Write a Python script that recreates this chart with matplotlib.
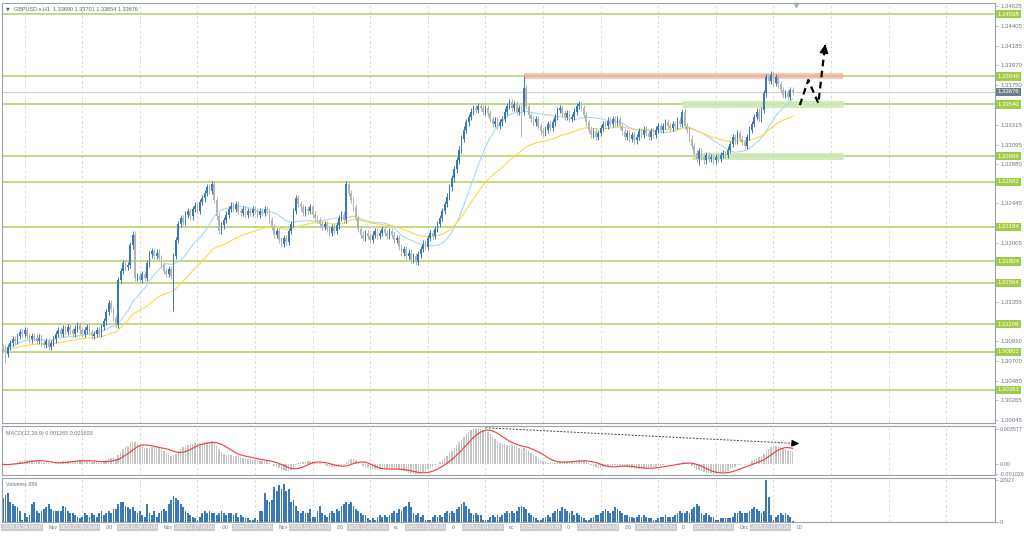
import numpy as np
import pandas as pd
import matplotlib
matplotlib.use('Agg')
import matplotlib.pyplot as plt
import matplotlib.transforms as mtransforms

plt.rcParams['font.family'] = ['Liberation Sans', 'DejaVu Sans']

# hourly closes GBPUSD H1, one row per trading day
closes = [
    # 2025.11.24
    1.3084, 1.3078, 1.3086, 1.3090, 1.3094, 1.3092, 1.3098, 1.3102, 1.3100, 1.3104, 1.3098, 1.3094,
    1.3098, 1.3096, 1.3092, 1.3096, 1.3090, 1.3088, 1.3092, 1.3086, 1.3090, 1.3094, 1.3100, 1.3104,
    # 2025.11.25
    1.3100, 1.3106, 1.3102, 1.3108, 1.3104, 1.3100, 1.3106, 1.3110, 1.3104, 1.3100, 1.3104, 1.3108,
    1.3102, 1.3098, 1.3100, 1.3104, 1.3100, 1.3108, 1.3114, 1.3124, 1.3134, 1.3128, 1.3118, 1.3110,
    # 2025.11.26
    1.3160, 1.3170, 1.3178, 1.3174, 1.3176, 1.3198, 1.3210, 1.3162, 1.3164, 1.3160, 1.3166, 1.3162,
    1.3178, 1.3188, 1.3192, 1.3186, 1.3190, 1.3184, 1.3176, 1.3170, 1.3166, 1.3172, 1.3164, 1.3186,
    # 2025.11.27
    1.3204, 1.3222, 1.3228, 1.3224, 1.3232, 1.3236, 1.3230, 1.3238, 1.3242, 1.3236, 1.3246, 1.3250,
    1.3256, 1.3262, 1.3258, 1.3266, 1.3248, 1.3230, 1.3214, 1.3220, 1.3226, 1.3232, 1.3238, 1.3242,
    # 2025.11.28
    1.3238, 1.3244, 1.3236, 1.3234, 1.3238, 1.3232, 1.3236, 1.3234, 1.3238, 1.3236, 1.3232, 1.3236,
    1.3234, 1.3238, 1.3236, 1.3226, 1.3218, 1.3210, 1.3214, 1.3204, 1.3200, 1.3206, 1.3202, 1.3214,
    # 2025.12.01
    1.3222, 1.3236, 1.3250, 1.3244, 1.3240, 1.3234, 1.3238, 1.3236, 1.3240, 1.3232, 1.3228, 1.3226,
    1.3222, 1.3218, 1.3222, 1.3216, 1.3212, 1.3218, 1.3214, 1.3220, 1.3228, 1.3232, 1.3226, 1.3266,
    # 2025.12.02
    1.3256, 1.3248, 1.3240, 1.3228, 1.3216, 1.3210, 1.3206, 1.3212, 1.3208, 1.3204, 1.3210, 1.3214,
    1.3208, 1.3212, 1.3216, 1.3212, 1.3208, 1.3214, 1.3210, 1.3204, 1.3206, 1.3196, 1.3190, 1.3194,
    # 2025.12.03
    1.3186, 1.3190, 1.3182, 1.3186, 1.3180, 1.3188, 1.3194, 1.3200, 1.3196, 1.3206, 1.3212, 1.3208,
    1.3216, 1.3222, 1.3228, 1.3236, 1.3244, 1.3252, 1.3262, 1.3272, 1.3282, 1.3292, 1.3304, 1.3316,
    # 2025.12.04
    1.3326, 1.3334, 1.3340, 1.3346, 1.3350, 1.3348, 1.3352, 1.3350, 1.3346, 1.3350, 1.3344, 1.3338,
    1.3332, 1.3336, 1.3330, 1.3334, 1.3338, 1.3346, 1.3352, 1.3356, 1.3350, 1.3354, 1.3346, 1.3350,
    # 2025.12.05
    1.3346, 1.3372, 1.3352, 1.3342, 1.3338, 1.3334, 1.3338, 1.3330, 1.3324, 1.3322, 1.3326, 1.3332,
    1.3328, 1.3334, 1.3340, 1.3348, 1.3350, 1.3344, 1.3340, 1.3344, 1.3338, 1.3340, 1.3346, 1.3352,
    # 2025.12.08
    1.3354, 1.3350, 1.3342, 1.3334, 1.3326, 1.3320, 1.3324, 1.3318, 1.3322, 1.3328, 1.3332, 1.3330,
    1.3336, 1.3332, 1.3338, 1.3334, 1.3338, 1.3330, 1.3324, 1.3318, 1.3322, 1.3316, 1.3320, 1.3314,
    # 2025.12.09
    1.3318, 1.3324, 1.3320, 1.3326, 1.3322, 1.3318, 1.3324, 1.3320, 1.3326, 1.3330, 1.3326, 1.3330,
    1.3334, 1.3330, 1.3328, 1.3332, 1.3330, 1.3336, 1.3332, 1.3346, 1.3330, 1.3326, 1.3316, 1.3308,
    # 2025.12.10
    1.3300, 1.3294, 1.3302, 1.3296, 1.3292, 1.3298, 1.3294, 1.3296, 1.3292, 1.3296, 1.3294, 1.3298,
    1.3300, 1.3298, 1.3304, 1.3310, 1.3318, 1.3314, 1.3322, 1.3316, 1.3312, 1.3308, 1.3318, 1.3326,
    # 2025.12.11
    1.3332, 1.3340, 1.3346, 1.3338, 1.3348, 1.3366, 1.3384, 1.3380, 1.3386, 1.3378, 1.3384, 1.3376,
    1.3370, 1.3364, 1.3366, 1.3362, 1.3370, 1.33676,
]
first_open = 1.3086
# long wicks that stand out
wick_low = {1: 1.3068, 71: 1.3125, 172: 1.3176, 216: 1.3318, 290: 1.3287}
wick_high = {217: 1.3385, 283: 1.3349, 320: 1.3391}

# tick volume in thousands
volumes_k = [
    13, 15, 16, 11, 10, 9, 8, 6, 1, 5, 3, 4, 10, 11, 6, 5, 6, 7, 8, 10, 7, 6, 6, 6,
    6, 9, 8, 6, 5, 5, 4, 3, 2, 3, 5, 4, 3, 5, 4, 3, 5, 6, 4, 5, 6, 5, 7, 7,
    10, 11, 11, 9, 8, 7, 8, 6, 5, 6, 4, 3, 10, 5, 4, 6, 3, 5, 6, 7, 6, 10, 12, 14,
    13, 12, 10, 8, 6, 5, 4, 3, 2, 1, 3, 5, 6, 5, 6, 5, 5, 4, 5, 6, 5, 4, 5, 5,
    4, 5, 3, 4, 3, 2, 2, 1, 1, 2, 1, 6, 6, 16, 12, 11, 12, 19, 17, 20, 18, 21, 17, 18,
    11, 12, 9, 6, 5, 6, 5, 5, 7, 3, 3, 6, 9, 5, 4, 3, 5, 6, 5, 7, 6, 9, 10, 11,
    10, 11, 9, 7, 6, 5, 4, 4, 2, 1, 2, 1, 3, 4, 3, 4, 3, 4, 5, 6, 5, 7, 6, 8,
    9, 11, 8, 5, 4, 5, 3, 4, 1, 1, 1, 3, 4, 3, 4, 3, 5, 6, 5, 6, 5, 7, 8, 10,
    11, 9, 7, 5, 4, 5, 4, 4, 1, 1, 1, 3, 4, 3, 4, 3, 4, 5, 6, 5, 6, 5, 6, 8,
    9, 8, 7, 5, 4, 3, 2, 1, 1, 2, 3, 4, 3, 5, 6, 7, 6, 8, 7, 6, 5, 6, 4, 5,
    4, 3, 2, 1, 1, 2, 3, 4, 4, 5, 6, 7, 6, 5, 6, 8, 7, 6, 5, 4, 4, 3, 3, 2,
    3, 4, 3, 4, 3, 2, 2, 1, 1, 2, 3, 3, 4, 3, 3, 3, 4, 5, 6, 5, 5, 6, 5, 7,
    8, 10, 9, 5, 4, 5, 4, 3, 3, 1, 1, 2, 2, 2, 2, 2, 3, 5, 5, 6, 5, 5, 5, 6,
    7, 8, 7, 6, 5, 6, 22.927, 13.7, 4, 1, 3, 4, 5, 4, 5, 4, 3, 0.656,
]

levels = [1.34538, 1.33849, 1.33540, 1.32966, 1.32682, 1.32184, 1.31804, 1.31564, 1.31109, 1.30802, 1.30381]
# price scale ticks that are not hidden behind the level labels
price_ticks = [1.34625, 1.34405, 1.34185, 1.33970, 1.33750, 1.33315, 1.33095, 1.32880,
               1.32445, 1.32005, 1.31355, 1.30920, 1.30700, 1.30480, 1.30265, 1.30045]
last_price = 1.33676
day_labels = ['2025.11.24 00:00', '2025.11.25 00:00', '2025.11.26 00:00', '2025.11.27 00:00',
              '2025.11.28 00:00', '2025.12.01 00:00', '2025.12.02 00:00', '2025.12.03 00:00',
              '2025.12.04 00:00', '2025.12.05 00:00', '2025.12.08 00:00', '2025.12.09 00:00',
              '2025.12.10 00:00', '2025.12.11 00:00']
day_tails = ['Nov', ':00', 'Nov', ':00', 'Nov', ':00', 'ec', '0', 'ec', '0', ':00', '0', 'Dec', '00']

# ---- derived OHLC / indicators
c = np.array(closes)
n = len(c)
x = np.arange(n)
o = np.r_[first_open, c[:-1]]
hi = np.maximum(o, c) + 0.00035
lo = np.minimum(o, c) - 0.00035
for k, v in wick_low.items():
    lo[k] = v
for k, v in wick_high.items():
    hi[k] = v
s = pd.Series(c)
ma_fast = s.rolling(20, min_periods=1).mean()
ma_slow = s.ewm(span=50, adjust=False).mean()
macd = s.ewm(span=12, adjust=False).mean() - s.ewm(span=26, adjust=False).mean()
signal = macd.rolling(9, min_periods=1).mean()
vol = np.array(volumes_k) * 1000

BLUE = '#3b79b6'
GREY_C = '#b5b5b5'
LEVEL = '#b7d66c'
TXT = '#6b7886'
SPINE = '#9aa3ac'

fig = plt.figure(figsize=(10.24, 5.37), dpi=100)
W, H = 1024, 537
def rect(x0, y0, x1, y1):
    return [x0 / W, 1 - y1 / H, (x1 - x0) / W, (y1 - y0) / H]

ax = fig.add_axes(rect(2, 3, 995, 423))
axm = fig.add_axes(rect(2, 426, 995, 475), sharex=ax)
axv = fig.add_axes(rect(2, 478, 995, 522), sharex=ax)

xlim = (-0.45, 413.3)
for a in (ax, axm, axv):
    a.set_xlim(*xlim)
    for sp in a.spines.values():
        sp.set_color(SPINE)
        sp.set_linewidth(0.8)
    a.yaxis.tick_right()
    a.tick_params(axis='y', length=2, width=0.5, color=SPINE, labelsize=4.3, labelcolor=TXT, pad=2)
    a.tick_params(axis='x', bottom=False, labelbottom=False)
    for g in range(9, 414, 24):
        a.axvline(g, color='#d4d4d4', lw=0.6, ls=(0, (3, 3)), zorder=0)

# ---- main price panel
ax.set_ylim(1.30016, 1.34660)
ax.set_yticks(price_ticks)
ax.set_yticklabels([f'{t:.5f}' for t in price_ticks])
for lv in levels:
    ax.axhline(lv, color=LEVEL, lw=1.2, zorder=1)
ax.axhline(last_price, color='#cfcfcf', lw=0.8, zorder=1)
# zones
ax.hlines(1.33849, 217, 350, color='#f1b5a2', lw=4, alpha=0.85, zorder=1.5)
ax.hlines(1.33540, 283, 350, color='#cde8b3', lw=5, alpha=0.9, zorder=1.5)
ax.hlines(1.32966, 287, 350, color='#cde8b3', lw=5, alpha=0.9, zorder=1.5)

cols = np.where(c >= o, BLUE, GREY_C)
ax.vlines(x, lo, hi, colors=cols, lw=0.7, zorder=3)
body = np.maximum(np.abs(c - o), 0.00006)
ax.bar(x, body, bottom=np.minimum(o, c), width=0.75, color=cols, lw=0, zorder=3)
ax.plot(x, ma_fast, color='#a9d8f0', lw=0.8, zorder=2)
ax.plot(x, ma_slow, color='#f7d94c', lw=0.8, zorder=2)

# forecast zigzag
zz_x = [332, 335.5, 339.7, 342.3]
zz_y = [1.33532, 1.33808, 1.33551, 1.34150]
ax.plot(zz_x, zz_y, color='black', lw=1.6, ls=(0, (3, 2)), zorder=5)
ax.annotate('', xy=(342.8, 1.34235), xytext=(342.3, 1.34150),
            arrowprops=dict(arrowstyle='-|>,head_width=0.25,head_length=0.5', color='black', lw=1.2),
            zorder=5)
# chart shift marker
ax.plot(330.5, 1.3464, marker='v', color='#a8b0b8', ms=3, clip_on=False, zorder=6)

trans = mtransforms.blended_transform_factory(ax.transAxes, ax.transData)
for lv in levels:
    ax.text(1.0025, lv, f'{lv:.5f}', transform=trans, fontsize=4.3, color='white', va='center', ha='left',
            bbox=dict(boxstyle='square,pad=0.3', fc='#a2cb45', ec='none'), zorder=10, clip_on=False)
ax.text(1.0025, last_price, f'{last_price:.5f}', transform=trans, fontsize=4.3, color='white', va='center',
        ha='left', bbox=dict(boxstyle='square,pad=0.3', fc='#6f7b87', ec='none'), zorder=11, clip_on=False)

ax.text(0.004, 0.987, '\u25bc', transform=ax.transAxes, fontsize=3.5, color='#5a6570', va='center',
        family=['DejaVu Sans'])
ax.text(0.012, 0.987, 'GBPUSD.s,H1  1.33690 1.33701 1.33654 1.33676', transform=ax.transAxes,
        fontsize=4.0, color='#5a6570', va='center')

# ---- MACD panel
axm.set_ylim(-0.00108, 0.00388)
axm.set_yticks([0.003577, 0.0, -0.001026])
axm.set_yticklabels(['0.003577', '0.00', '-0.001026'])
axm.tick_params(axis='y', labelsize=3.9, pad=1.5)
axm.bar(x, macd, width=0.65, color='#c4c4c4', lw=0, zorder=2)
axm.plot(x, signal, color='#ee3b3b', lw=0.8, zorder=3)
axm.plot([201, 330], [0.00370, 0.00212], color='#444444', lw=0.7, ls=(0, (2, 1.5)), zorder=4)
axm.annotate('', xy=(333, 0.00208), xytext=(328, 0.00214),
             arrowprops=dict(arrowstyle='-|>,head_width=0.2,head_length=0.45', color='black', lw=0.8),
             zorder=5)
axm.text(0.004, 0.9, 'MACD(12,26,9) 0.001265 0.001603', transform=axm.transAxes, fontsize=3.9,
         color=TXT, va='top')

# ---- volume panel
axv.set_ylim(0, 24100)
axv.set_yticks([22927, 0])
axv.set_yticklabels(['22927', '0'])
axv.tick_params(axis='y', labelsize=3.9, pad=1.5)
axv.bar(x, vol, width=0.75, color=BLUE, lw=0, zorder=2)
axv.text(0.004, 0.9, 'Volumes 656', transform=axv.transAxes, fontsize=3.9, color=TXT, va='top')

# ---- time axis labels
for d, (lab, tail) in enumerate(zip(day_labels, day_tails)):
    xi = 24 * d - 0.2
    fx = (xi - xlim[0]) / (xlim[1] - xlim[0])
    axv.text(fx, -0.07, lab, transform=axv.transAxes, fontsize=3.6, color='white', ha='left', va='top',
             bbox=dict(boxstyle='square,pad=0.25', fc='#c7cbcf', ec='none'), clip_on=False)
    axv.text(fx + 0.046, -0.07, tail, transform=axv.transAxes, fontsize=3.6, color=TXT, ha='left',
             va='top', clip_on=False)

fig.savefig('out.png', dpi=100, facecolor='white')
